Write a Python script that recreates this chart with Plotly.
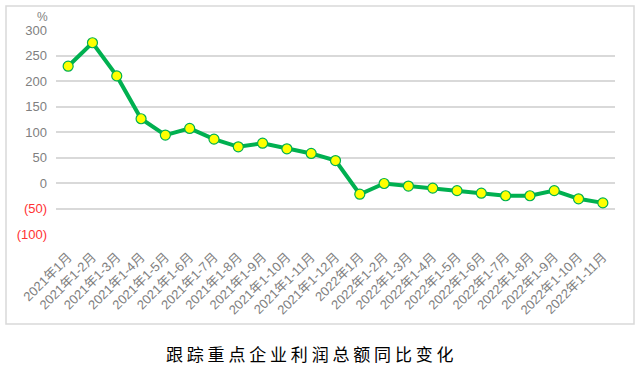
import plotly.graph_objects as go

categories = ["2021年1月"] + [f"2021年1-{m}月" for m in range(2, 13)] + ["2022年1月"] + [f"2022年1-{m}月" for m in range(2, 12)]
values = [229, 275, 210, 126, 94, 107, 86, 71, 78, 67, 58, 44,
          -22, -1, -6, -10, -15, -20, -25, -25, -15, -31, -39]
y_tickvals = [300, 250, 200, 150, 100, 50, 0, -50, -100]
y_ticktext = ["300", "250", "200", "150", "100", "50", "0",
              '<span style="color:#FF3333">(50)</span>',
              '<span style="color:#FF3333">(100)</span>']
title_text = "跟踪重点企业利润总额同比变化"

W, H = 640, 371
ml, mr, mt, mb = 56, 25, 30, 137
pw, ph = W - ml - mr, H - mt - mb

fig = go.Figure()
fig.add_trace(go.Scatter(
    x=categories, y=values, mode="lines+markers",
    line=dict(color="#00B050", width=4),
    marker=dict(color="#FFFF00", size=10, line=dict(color="#00B050", width=1.2)),
    showlegend=False, cliponaxis=False,
))

fig.update_layout(
    width=W, height=H,
    margin=dict(l=ml, r=mr, t=mt, b=mb),
    paper_bgcolor="white", plot_bgcolor="white",
    font=dict(family="Liberation Sans, Noto Sans CJK SC", color="#7F7F7F"),
    xaxis=dict(type="category", range=[-0.5, 22.5], showgrid=False, showline=False,
               ticks="", tickangle=-45, tickfont=dict(size=13, color="#7F7F7F"),
               zeroline=False, ticklabelstandoff=12),
    yaxis=dict(range=[-100, 300], tickvals=y_tickvals, ticktext=y_ticktext,
               showgrid=True, gridcolor="#D9D9D9", gridwidth=1.5, zeroline=False,
               showline=False, ticks="", tickfont=dict(size=13, color="#7F7F7F"),
               ticklabelstandoff=8),
    shapes=[dict(type="rect", xref="paper", yref="paper",
                 x0=(6 - ml) / pw, x1=(634 - ml) / pw,
                 y0=(H - mb - 324) / ph, y1=(H - mb - 6) / ph,
                 line=dict(color="#D9D9D9", width=1.5), fillcolor="rgba(0,0,0,0)",
                 layer="below")],
    annotations=[
        dict(text="%", xref="paper", yref="paper", x=(42 - ml) / pw, y=(H - mb - 17) / ph,
             showarrow=False, font=dict(size=12, color="#7F7F7F"), xanchor="center", yanchor="middle"),
        dict(text=" ".join(title_text), xref="paper", yref="paper",
             x=(310 - ml) / pw, y=(H - mb - 353) / ph, showarrow=False,
             font=dict(size=17, color="#000000", family="Noto Sans CJK SC"),
             xanchor="center", yanchor="middle"),
    ],
)

fig.write_html("out.html", config={"displayModeBar": False},
               post_script="document.body.style.margin='0';document.body.style.padding='0';")
